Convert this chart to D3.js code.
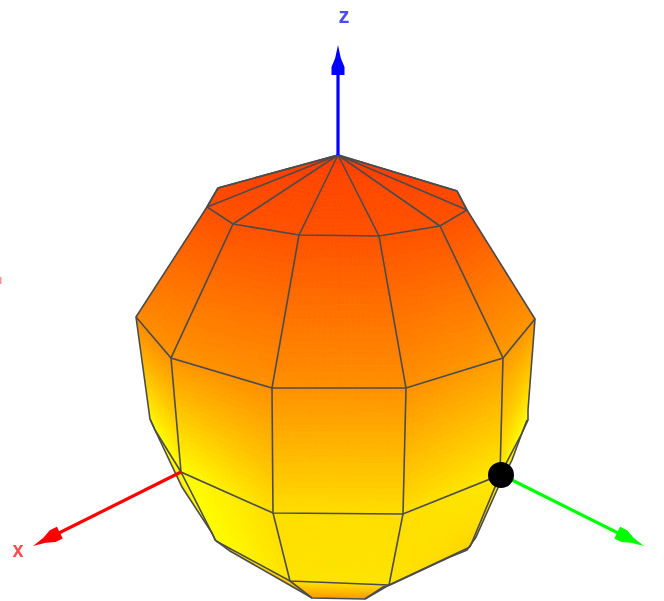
<!DOCTYPE html>
<html>
<head>
<meta charset="utf-8">
<script src="https://cdnjs.cloudflare.com/ajax/libs/d3/7.8.5/d3.min.js"></script>
<style>
  html, body { margin: 0; padding: 0; background: #fff; overflow: hidden; }
  svg { display: block; }
  text { font-family: "Liberation Sans", sans-serif; }
</style>
</head>
<body>
<script>
// surface rings, top to bottom, columns run left to right round the visible side
const apexU = 0, apexV = 2.0;
const ringU = [
    [-1.20, -1.31, -1.05, -0.39, 0.41, 1.02, 1.29, 1.19],
    [-2.02, -2.02, -1.67, -0.66, 0.68, 1.65, 1.97, 1.97],
    [-1.88, -1.83, -1.57, -0.65, 0.65, 1.62, 1.84, 1.89],
    [-1.22, -1.22, -1.22, -0.48, 0.51, 1.32, 1.32, 1.32],
    [-1.22, -1.22, -1.08, -0.26, 0.27, 1.20, 1.32, 1.32]
];
const ringV = [
    [1.67, 1.48, 1.31, 1.20, 1.19, 1.29, 1.45, 1.64],
    [0.38, 0.38, -0.03, -0.33, -0.33, -0.03, 0.36, 0.36],
    [-0.64, -0.75, -1.17, -1.58, -1.59, -1.20, -0.78, -0.65],
    [-1.86, -1.86, -1.86, -2.26, -2.30, -1.92, -1.92, -1.92],
    [-1.86, -1.86, -1.96, -2.43, -2.44, -2.01, -1.92, -1.92]
];
// colour value at each vertex
const apexShade = 0;
const ringShade = [
    [0.06, 0.08, 0.10, 0.11, 0.11, 0.10, 0.08, 0.06],
    [0.45, 0.45, 0.52, 0.50, 0.50, 0.55, 0.52, 0.52],
    [1.00, 1.00, 1.00, 0.85, 0.85, 0.90, 1.00, 1.00],
    [1.00, 1.00, 1.00, 0.88, 0.88, 0.82, 0.82, 0.82],
    [1.00, 1.00, 0.70, 0.55, 0.55, 0.70, 0.82, 0.82]
];
// outline of the surface
const hullU = [0, 1.19, 1.29, 1.97, 1.90, 1.90, 1.84, 1.74, 1.59, 1.38, 1.29, 1.12, 0.52, 0.45, 0.27, -0.26, -0.45, -1.08, -1.23, -1.26, -1.56, -1.83, -1.88, -2.02, -1.31, -1.20];
const hullV = [2.0, 1.64, 1.45, 0.36, -0.55, -0.65, -0.78, -1.05, -1.35, -1.82, -1.95, -2.02, -2.30, -2.32, -2.44, -2.43, -2.32, -1.96, -1.85, -1.78, -1.32, -0.75, -0.64, 0.38, 1.48, 1.67];

// axes
const axisNames = ["x", "y", "z"];
const axisColors = ["#ff0000", "#00ff00", "#0000ff"];
const axisStartU = [-1.57, 1.74, 0];
const axisStartV = [-1.17, -1.25, 2.0];
const axisEndU = [-3.05, 3.06, 0];
const axisEndV = [-1.91, -1.91, 3.10];
const labelU = [-3.20, 3.31, 0.06];
const labelV = [-2.02, -2.145, 3.32];
const markerU = 1.63, markerV = -1.20;

const width = 664, height = 601;
const x = d3.scaleLinear().domain([-3.38, 3.26]).range([0, width]);
const y = d3.scaleLinear().domain([3.55, -2.46]).range([0, height]);
const shade = d3.scaleLinear().domain([0, 0.5, 1]).range(["#ff4000", "#ff9000", "#ffff00"]);

// add the apex as a first ring so the cap is handled like the other quads
const meshU = [ringU[0].map(() => apexU), ...ringU];
const meshV = [ringV[0].map(() => apexV), ...ringV];
const meshShade = [ringShade[0].map(() => apexShade), ...ringShade];

const svg = d3.select("body").append("svg").attr("width", width).attr("height", height);
const defs = svg.append("defs");
defs.append("filter").attr("id", "soft").attr("x", "-5%").attr("y", "-5%").attr("width", "110%").attr("height", "110%")
    .append("feGaussianBlur").attr("stdDeviation", 0.6);

const hullPath = d3.line().x(d => x(d[0])).y(d => y(d[1])).curve(d3.curveLinearClosed)(d3.zip(hullU, hullV));
defs.append("clipPath").attr("id", "hull").append("path").attr("d", hullPath);
const rim = defs.append("linearGradient").attr("id", "rim").attr("x1", 0).attr("x2", 0).attr("y1", 0).attr("y2", 1);
rim.append("stop").attr("offset", "80%").attr("stop-color", "#ffee00");
rim.append("stop").attr("offset", "92%").attr("stop-color", "#ffb000");

const chart = svg.append("g").attr("filter", "url(#soft)");

chart.append("path").attr("d", hullPath).attr("fill", "url(#rim)");

// split every quad into small cells, blending position and colour from the corners
const steps = 20;
const cells = [];
function blend(a, i, j, s, t) {
    return (a[i][j] * (1 - s) + a[i][j + 1] * s) * (1 - t) + (a[i + 1][j] * (1 - s) + a[i + 1][j + 1] * s) * t;
}
for (let i = 0; i < meshU.length - 1; i++) {
    for (let j = 0; j < meshU[0].length - 1; j++) {
        for (let a = 0; a < steps; a++) {
            for (let b = 0; b < steps; b++) {
                let corners = [[a, b], [a + 1, b], [a + 1, b + 1], [a, b + 1]].map(c =>
                    [x(blend(meshU, i, j, c[0] / steps, c[1] / steps)), y(blend(meshV, i, j, c[0] / steps, c[1] / steps))]);
                cells.push({
                    points: corners,
                    value: blend(meshShade, i, j, (a + 0.5) / steps, (b + 0.5) / steps)
                });
            }
        }
    }
}
chart.append("g").attr("clip-path", "url(#hull)")
    .selectAll("path")
    .data(cells)
    .enter()
    .append("path")
    .attr("d", d => "M" + d.points.join("L") + "Z")
    .attr("fill", d => shade(d.value))
    .attr("stroke", d => shade(d.value))
    .attr("stroke-width", 0.7);

// wire frame
const wire = d3.line().x(d => x(d[0])).y(d => y(d[1]));
const wireLines = [];
ringU.slice(0, 4).forEach((r, i) => wireLines.push(d3.zip(r, ringV[i])));
meshU[0].forEach((_, j) => wireLines.push([[apexU, apexV], [ringU[0][j], ringV[0][j]]]));
[2, 3, 4, 5].forEach(j => {
    wireLines.push(ringU.slice(0, 4).map((r, i) => [r[j], ringV[i][j]]));
});
[3, 4].forEach(j => wireLines.push([[ringU[3][j], ringV[3][j]], [ringU[4][j], ringV[4][j]]]));

chart.append("g").selectAll("path")
    .data(wireLines)
    .enter()
    .append("path")
    .attr("d", wire)
    .attr("fill", "none")
    .attr("stroke", "#4c4c4c")
    .attr("stroke-width", 1.6);
chart.append("path").attr("d", hullPath).attr("fill", "none").attr("stroke", "#4c4c4c").attr("stroke-width", 1.6);

// axes with arrow heads
const heads = chart.append("g");
axisNames.forEach((name, i) => {
    let x0 = x(axisStartU[i]), y0 = y(axisStartV[i]);
    let x1 = x(axisEndU[i]), y1 = y(axisEndV[i]);
    let len = Math.hypot(x1 - x0, y1 - y0);
    let ux = (x1 - x0) / len, uy = (y1 - y0) / len;
    heads.append("line")
        .attr("x1", x0).attr("y1", y0).attr("x2", x1 - ux * 10).attr("y2", y1 - uy * 10)
        .attr("stroke", axisColors[i])
        .attr("stroke-width", 3.2);
    let nx = -uy, ny = ux;
    let at = (back, side) => [x1 - ux * back + nx * side, y1 - uy * back + ny * side];
    let pts = [at(0, 0), at(13, 2.8), at(22, 6.5), at(30, 6.5), at(30, -6.5), at(22, -6.5), at(13, -2.8)];
    heads.append("path")
        .attr("d", "M" + pts.join("L") + "Z")
        .attr("fill", axisColors[i]);
});

chart.append("circle")
    .attr("cx", x(markerU)).attr("cy", y(markerV)).attr("r", 13)
    .attr("fill", "#000");

// axis letters
svg.append("g").selectAll("text")
    .data(axisNames)
    .enter()
    .append("text")
    .attr("x", (d, i) => x(labelU[i]))
    .attr("y", (d, i) => y(labelV[i]))
    .attr("text-anchor", "middle")
    .attr("font-size", 22)
    .attr("font-weight", "bold")
    .attr("textLength", 11)
    .attr("lengthAdjust", "spacingAndGlyphs")
    .attr("fill", (d, i) => axisColors[i])
    .attr("opacity", 0.7)
    .attr("filter", "url(#soft)")
    .text(d => d);

// tail of a label cut off by the left edge
svg.append("rect").attr("x", 0).attr("y", 277).attr("width", 1.5).attr("height", 7).attr("fill", "#ff9090");
</script>
</body>
</html>
